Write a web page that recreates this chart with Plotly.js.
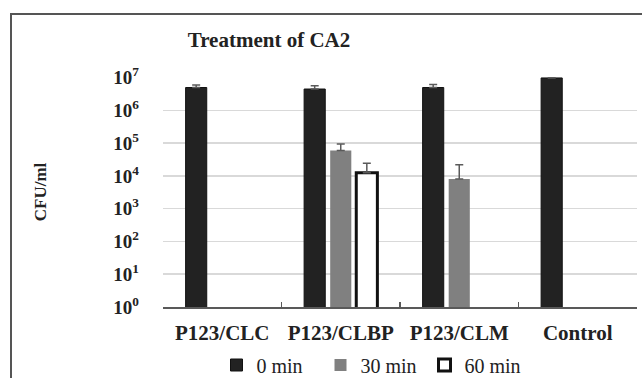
<!DOCTYPE html>
<html>
<head>
<meta charset="utf-8">
<script src="https://cdn.plot.ly/plotly-3.0.1.min.js"></script>
<style>
html,body{margin:0;padding:0;background:#fff;}
#frame{position:absolute;left:10px;top:13px;width:640px;height:370px;border-left:2px solid #555;border-top:2px solid #555;}
#chart{position:absolute;left:0;top:0;width:642px;height:378px;}
</style>
</head>
<body>
<div id="frame"></div>
<div id="chart"></div>
<script>
const categories = ["P123/CLC", "P123/CLBP", "P123/CLM", "Control"];
const seriesNames = ["0 min", "30 min", "60 min"];
const min0 = [5.0e6, 4.5e6, 5.0e6, 9.8e6];
const min0Err = [1.0e6, 1.2e6, 1.2e6, 3.0e5];
const min30 = [null, 6.0e4, 8.0e3, null];
const min30Err = [null, 3.5e4, 1.4e4, null];
const min60 = [null, 1.25e4, null, null];
const min60Err = [null, 1.2e4, null, null];
const tickVals = [1, 10, 100, 1000, 1e4, 1e5, 1e6, 1e7];
const tickText = ["10<sup>0</sup>","10<sup>1</sup>","10<sup>2</sup>","10<sup>3</sup>","10<sup>4</sup>","10<sup>5</sup>","10<sup>6</sup>","10<sup>7</sup>"];

const serif = "'Liberation Serif', 'Times New Roman', serif";
function errs(arr){ return {type:'data', symmetric:false, array:arr, arrayminus:arr.map(()=>0), color:'#5a5a5a', thickness:1.5, width:4}; }

const traces = [
  {type:'bar', name:seriesNames[0], x:categories, y:min0, marker:{color:'#222222', line:{color:'#111', width:1}}, error_y:errs(min0Err)},
  {type:'bar', name:seriesNames[1], x:categories, y:min30, marker:{color:'#808080', line:{color:'#808080', width:0}}, error_y:errs(min30Err)},
  {type:'bar', name:seriesNames[2], x:categories, y:min60, marker:{color:'#ffffff', line:{color:'#111', width:3}}, error_y:errs(min60Err)}
];

const layout = {
  width:642, height:378,
  paper_bgcolor:'rgba(0,0,0,0)', plot_bgcolor:'rgba(0,0,0,0)',
  font:{family:serif, color:'#222'},
  margin:{l:163, r:5, t:77, b:71},
  title:{text:'Treatment of CA2', font:{family:serif, size:21, color:'#222', weight:'bold'}, xref:'container', x:269/642, xanchor:'center', yref:'container', y:1-40/378, yanchor:'middle'},
  barmode:'group', bargap:0.34, bargroupgap:0.19,
  showlegend:true,
  legend:{orientation:'h', x:0.442, xanchor:'center', yref:'container', y:1-365/378, yanchor:'middle', font:{family:serif, size:20, color:'#222'}, traceorder:'normal', itemwidth:30, entrywidth:59, entrywidthmode:'pixels'},
  xaxis:{type:'category', automargin:false, showgrid:false, showline:true, linecolor:'#595959', linewidth:1.5, ticks:'inside', tickson:'boundaries', ticklen:5, tickcolor:'#595959', tickwidth:1.5, tickfont:{family:serif, size:21, color:'#222', weight:'bold'}, ticklabelstandoff:6},
  yaxis:{type:'log', automargin:false, range:[0, 7.02], tickvals:tickVals, ticktext:tickText, ticksuffix:'\u00a0', showgrid:true, gridcolor:'#d9d9d9', gridwidth:1.5, showline:false, zeroline:false, ticks:'', tickfont:{family:serif, size:19, color:'#222', weight:'bold'}, ticklabelstandoff:23,
    title:{text:'CFU/ml', font:{family:serif, size:17, color:'#222', weight:'bold'}, standoff:62}}
};
Plotly.newPlot('chart', traces, layout, {displayModeBar:false, staticPlot:true});
</script>
</body>
</html>
